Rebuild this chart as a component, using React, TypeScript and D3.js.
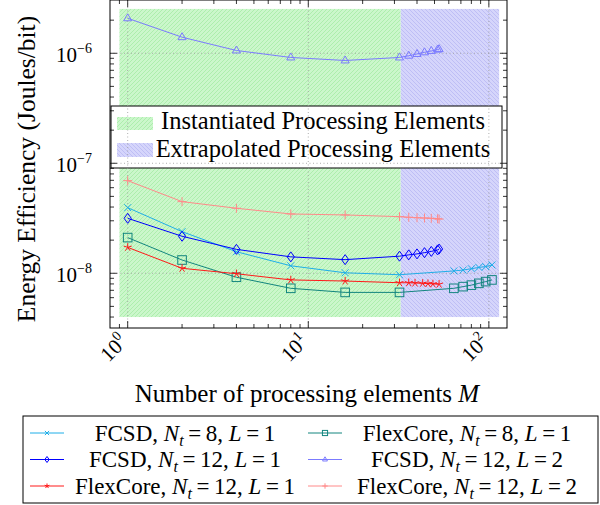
import React from 'react';
import * as d3 from 'd3';

// number of processing elements
const mInstantiated = [1, 2, 4, 8, 16, 32];
const mExtraNt12 = [36, 40, 44, 48, 52, 53];
const mExtraRed = [36, 39, 43, 46, 49, 53];
const mExtraNt8 = [64, 72, 80, 88, 96, 104];

// energy efficiency (J/bit)
const fcsdNt8L1 = [3.95e-8, 2.39e-8, 1.57e-8, 1.17e-8, 1.01e-8, 0.97e-8];
const fcsdNt8L1Ext = [1.05e-8, 1.07e-8, 1.1e-8, 1.13e-8, 1.15e-8, 1.19e-8];
const flexNt8L1 = [2.11e-8, 1.32e-8, 0.92e-8, 0.73e-8, 0.67e-8, 0.67e-8];
const flexNt8L1Ext = [0.73e-8, 0.756e-8, 0.78e-8, 0.81e-8, 0.84e-8, 0.87e-8];
const fcsdNt12L1 = [3.16e-8, 2.17e-8, 1.65e-8, 1.41e-8, 1.33e-8, 1.43e-8];
const fcsdNt12L1Ext = [1.47e-8, 1.5e-8, 1.54e-8, 1.58e-8, 1.63e-8, 1.66e-8];
const fcsdNt12L2 = [2.08e-6, 1.4e-6, 1.06e-6, 0.916e-6, 0.86e-6, 0.916e-6];
const fcsdNt12L2Ext = [0.95e-6, 0.985e-6, 1.02e-6, 1.05e-6, 1.08e-6, 1.09e-6];
const flexNt12L1 = [1.72e-8, 1.11e-8, 0.99e-8, 0.87e-8, 0.85e-8, 0.82e-8];
const flexNt12L1Ext = [0.82e-8, 0.815e-8, 0.81e-8, 0.805e-8, 0.8e-8, 0.795e-8];
const flexNt12L2 = [6.95e-8, 4.48e-8, 3.9e-8, 3.46e-8, 3.39e-8, 3.27e-8];
const flexNt12L2Ext = [3.23e-8, 3.2e-8, 3.18e-8, 3.16e-8, 3.13e-8, 3.11e-8];

// shaded regions [xFrom, xTo], shared y span
const instantiatedRange = [0.9, 32.5];
const extrapolatedRange = [32.5, 114];
const regionY = [4e-9, 2.53e-6];

const series = [
  { name: 'FCSD', nt: '8', l: '1', color: '#1faee8', mark: 'x', ms: mInstantiated.concat(mExtraNt8), vs: fcsdNt8L1.concat(fcsdNt8L1Ext) },
  { name: 'FlexCore', nt: '8', l: '1', color: '#13857f', mark: 'square', ms: mInstantiated.concat(mExtraNt8), vs: flexNt8L1.concat(flexNt8L1Ext) },
  { name: 'FCSD', nt: '12', l: '1', color: '#0000ff', mark: 'diamond', ms: mInstantiated.concat(mExtraNt12), vs: fcsdNt12L1.concat(fcsdNt12L1Ext) },
  { name: 'FCSD', nt: '12', l: '2', color: '#7b7bff', mark: 'triangle', ms: mInstantiated.concat(mExtraNt12), vs: fcsdNt12L2.concat(fcsdNt12L2Ext) },
  { name: 'FlexCore', nt: '12', l: '1', color: '#ff1a1a', mark: 'star', ms: mInstantiated.concat(mExtraRed), vs: flexNt12L1.concat(flexNt12L1Ext) },
  { name: 'FlexCore', nt: '12', l: '2', color: '#ff8a8a', mark: 'plus', ms: mInstantiated.concat(mExtraNt12), vs: flexNt12L2.concat(flexNt12L2Ext) },
];

const FONT = "'Liberation Serif', 'DejaVu Serif', serif";

function Marker({ type, x, y, color, s = 1 }) {
  const sw = 1;
  if (type === 'x') {
    const r = 3.5 * s;
    return <path d={`M${x - r},${y - r}L${x + r},${y + r}M${x - r},${y + r}L${x + r},${y - r}`} stroke={color} strokeWidth={sw} />;
  }
  if (type === 'plus') {
    const r = 4.5 * s;
    return <path d={`M${x - r},${y}L${x + r},${y}M${x},${y - r}L${x},${y + r}`} stroke={color} strokeWidth={sw} />;
  }
  if (type === 'square') {
    const r = 4.3 * s;
    return <rect x={x - r} y={y - r} width={2 * r} height={2 * r} fill="none" stroke={color} strokeWidth={sw} />;
  }
  if (type === 'diamond') {
    const a = 3.6 * s, b = 5 * s;
    return <path d={`M${x},${y - b}L${x + a},${y}L${x},${y + b}L${x - a},${y}Z`} fill="none" stroke={color} strokeWidth={sw} />;
  }
  if (type === 'triangle') {
    const r = 4.5 * s;
    return <path d={`M${x},${y - r}L${x + r * 0.9},${y + r * 0.55}L${x - r * 0.9},${y + r * 0.55}Z`} fill="none" stroke={color} strokeWidth={sw} />;
  }
  // star: 5 rays
  const r = 4.2 * s;
  let d = '';
  for (let k = 0; k < 5; k++) {
    const a = -Math.PI / 2 + (k * 2 * Math.PI) / 5;
    d += `M${x},${y}L${x + r * Math.cos(a)},${y + r * Math.sin(a)}`;
  }
  return <path d={d} stroke={color} strokeWidth={sw} />;
}

function SeriesLabel({ x, y, name, nt, l }) {
  return (
    <text x={x} y={y} textAnchor="middle" style={{ fontFamily: FONT }} fontSize={23}>
      {name + ', '}<tspan fontStyle="italic">N</tspan><tspan fontStyle="italic" fontSize={16} dy={5}>t</tspan><tspan dy={-5}>{'\u2009=\u2009' + nt + ', '}</tspan><tspan fontStyle="italic">L</tspan>{'\u2009=\u2009' + l}
    </text>
  );
}

export default function App() {
  const X0 = 110, X1 = 507, Y0 = 0, Y1 = 328;
  const x = d3.scaleLog().domain([0.798, 126]).range([X0, X1]);
  const y = d3.scaleLog().domain([3.18e-9, 3.05e-6]).range([Y1, Y0]);

  const isMajor = (v) => Math.abs(Math.log10(v) - Math.round(Math.log10(v))) < 1e-6;
  const xTicks = x.ticks().filter((v) => x(v) > X0 + 1 && x(v) < X1 - 1);
  const yTicks = y.ticks().filter((v) => y(v) > Y0 + 1 && y(v) < Y1 - 1);

  const line = d3.line().x((d) => x(d[0])).y((d) => y(d[1]));

  const tf = { fontFamily: FONT };

  return (
    <svg width={600} height={505} style={{ position: 'absolute', left: 0, top: 0, background: '#fff' }}>
      <defs>
        <pattern id="greenHatch" patternUnits="userSpaceOnUse" width={4} height={4}>
          <rect width={4} height={4} fill="#cbf7cb" />
          <path d="M-1,1l2,-2M0,4l4,-4M3,5l2,-2" stroke="#a6eca6" strokeWidth={0.8} />
        </pattern>
        <pattern id="blueHatch" patternUnits="userSpaceOnUse" width={4} height={4}>
          <rect width={4} height={4} fill="#d5d5fb" />
          <path d="M-1,3l2,2M0,0l4,4M3,-1l2,2" stroke="#b9b9f4" strokeWidth={0.8} />
        </pattern>
        <clipPath id="plotClip">
          <rect x={X0} y={Y0} width={X1 - X0} height={Y1 - Y0} />
        </clipPath>
      </defs>

      {/* shaded regions */}
      <rect x={x(instantiatedRange[0])} y={y(regionY[1])} width={x(instantiatedRange[1]) - x(instantiatedRange[0])} height={y(regionY[0]) - y(regionY[1])} fill="url(#greenHatch)" />
      <rect x={x(extrapolatedRange[0])} y={y(regionY[1])} width={x(extrapolatedRange[1]) - x(extrapolatedRange[0])} height={y(regionY[0]) - y(regionY[1])} fill="url(#blueHatch)" />

      {/* inner legend */}
      <rect x={111} y={106} width={391} height={62} fill="#fff" stroke="#000" strokeWidth={1} />
      <rect x={117} y={117} width={36} height={13} fill="url(#greenHatch)" />
      <rect x={117} y={143} width={36} height={14} fill="url(#blueHatch)" />
      <text x={323} y={129} textAnchor="middle" style={tf} fontSize={24.5}>Instantiated Processing Elements</text>
      <text x={323} y={157} textAnchor="middle" style={tf} fontSize={24.5}>Extrapolated Processing Elements</text>

      {/* grid */}
      <g stroke="#9a9a9a" strokeWidth={0.8} strokeDasharray="1,2.5">
        {xTicks.filter(isMajor).map((v) => <line key={'gx' + v} x1={x(v)} x2={x(v)} y1={Y0} y2={Y1} />)}
        {yTicks.filter(isMajor).map((v) => <line key={'gy' + v} x1={X0} x2={X1} y1={y(v)} y2={y(v)} />)}
      </g>

      {/* series */}
      <g clipPath="url(#plotClip)">
        {series.map((s, i) => {
          const pts = s.ms.map((m, j) => [m, s.vs[j]]);
          return (
            <g key={i}>
              <path d={line(pts)} fill="none" stroke={s.color} strokeWidth={1} />
              {pts.map((p, j) => <Marker key={j} type={s.mark} x={x(p[0])} y={y(p[1])} color={s.color} />)}
            </g>
          );
        })}
      </g>

      {/* axis box and ticks */}
      <rect x={X0} y={Y0} width={X1 - X0} height={Y1 - Y0} fill="none" stroke="#000" strokeWidth={1} />
      <g stroke="#000" strokeWidth={0.8}>
        {xTicks.map((v) => {
          const L = isMajor(v) ? 7 : 4;
          return (
            <g key={'tx' + v}>
              <line x1={x(v)} x2={x(v)} y1={Y1} y2={Y1 - L} />
              <line x1={x(v)} x2={x(v)} y1={Y0} y2={Y0 + L} />
            </g>
          );
        })}
        {yTicks.map((v) => {
          const L = isMajor(v) ? 7 : 4;
          return (
            <g key={'ty' + v}>
              <line x1={X0} x2={X0 + L} y1={y(v)} y2={y(v)} />
              <line x1={X1} x2={X1 - L} y1={y(v)} y2={y(v)} />
            </g>
          );
        })}
      </g>

      {/* tick labels */}
      {yTicks.filter(isMajor).map((v) => (
        <text key={'ly' + v} x={92} y={y(v) + 9} textAnchor="end" style={tf} fontSize={21}>
          10<tspan fontSize={14} dy={-9}>{'\u2212' + Math.abs(Math.round(Math.log10(v)))}</tspan>
        </text>
      ))}
      {xTicks.filter(isMajor).map((v) => (
        <text key={'lx' + v} transform={`translate(${x(v) - 4},${Y1 + 10}) rotate(-45)`} textAnchor="end" style={tf} fontSize={21} dy={7}>
          10<tspan fontSize={14} dy={-9}>{Math.round(Math.log10(v))}</tspan>
        </text>
      ))}

      {/* axis titles */}
      <text x={307} y={402} textAnchor="middle" style={tf} fontSize={25}>
        Number of processing elements <tspan fontStyle="italic">M</tspan>
      </text>
      <text transform="translate(35,169) rotate(-90)" textAnchor="middle" style={tf} fontSize={25.5}>
        Energy Efficiency (Joules/bit)
      </text>

      {/* bottom legend */}
      <rect x={23} y={416} width={575} height={87} fill="#fff" stroke="#000" strokeWidth={1} />
      {series.map((s, i) => {
        const col = i % 2;
        const row = Math.floor(i / 2);
        const ly = 433 + row * 26.5;
        const lx0 = col === 0 ? 30 : 308;
        const tx = col === 0 ? 185 : 467;
        return (
          <g key={'lg' + i}>
            <line x1={lx0} x2={lx0 + 34} y1={ly} y2={ly} stroke={s.color} strokeWidth={1} />
            <Marker type={s.mark} x={lx0 + 17} y={ly} color={s.color} s={0.6} />
            <SeriesLabel x={tx} y={ly + 7.5} name={s.name} nt={s.nt} l={s.l} />
          </g>
        );
      })}
    </svg>
  );
}
